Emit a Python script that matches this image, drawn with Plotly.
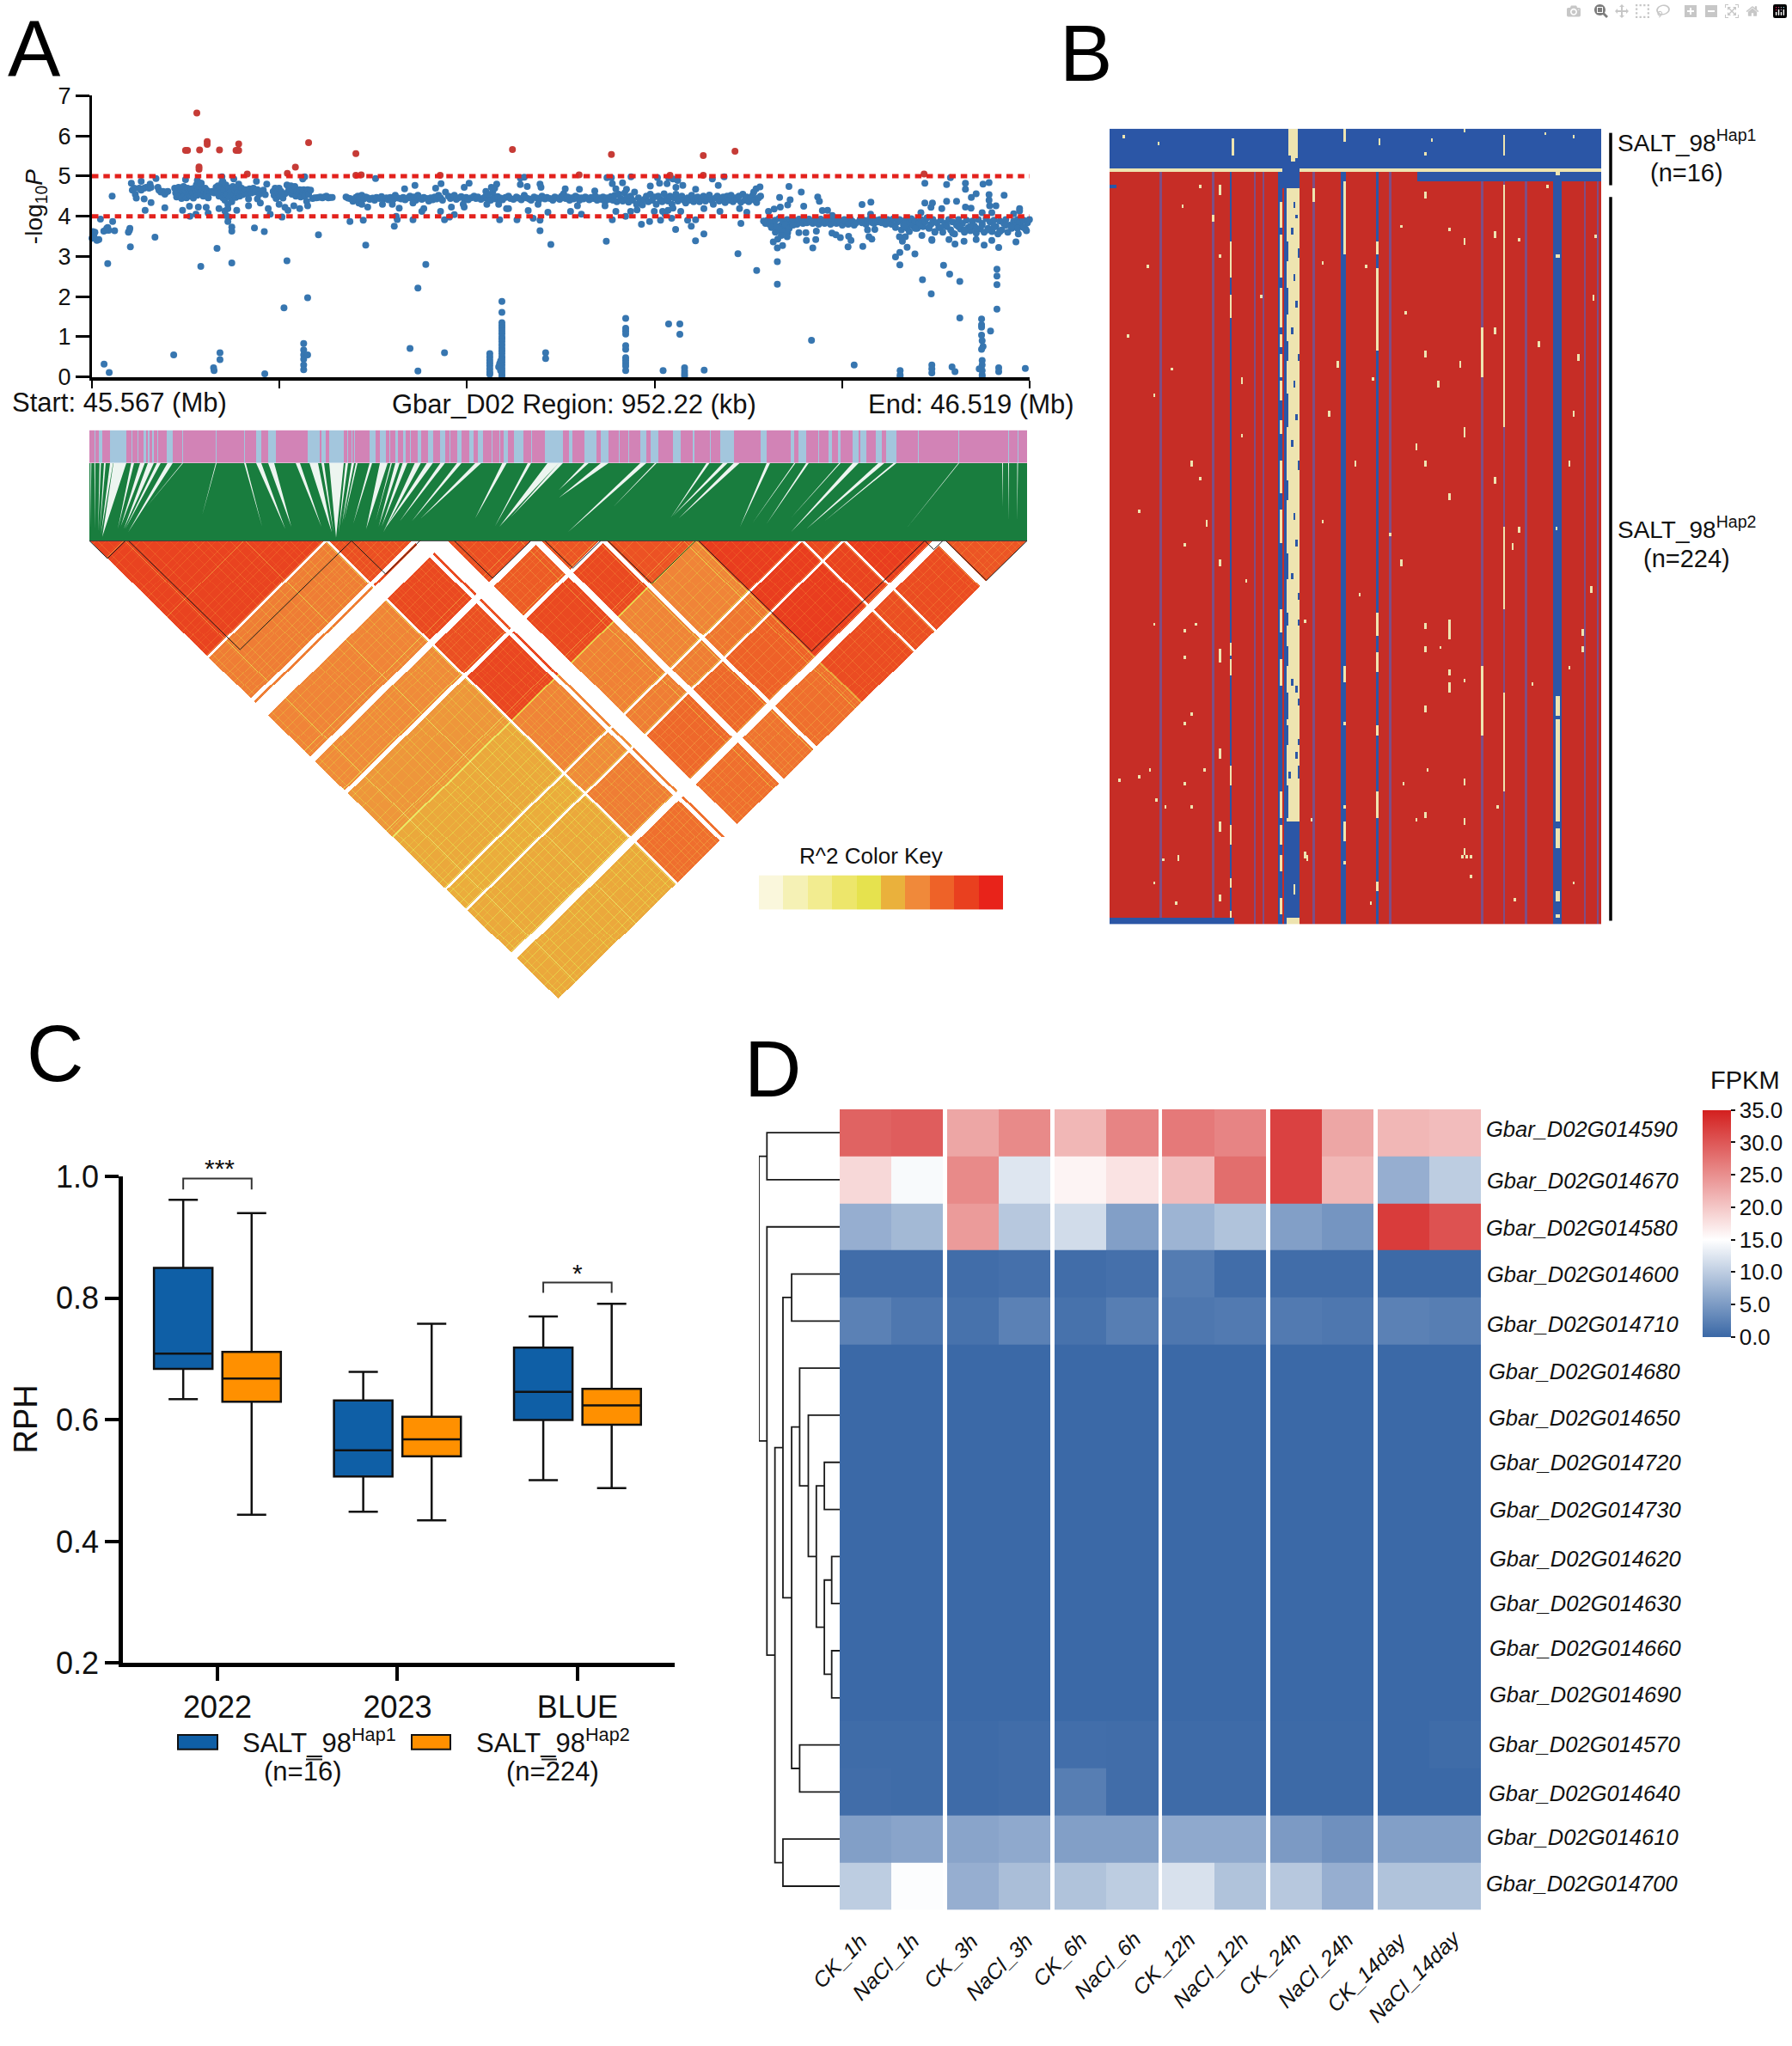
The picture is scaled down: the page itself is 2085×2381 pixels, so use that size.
import numpy as np
import plotly.graph_objects as go

W, H = 2085, 2381
FONT = "Liberation Sans"

# ---------------- Panel A: association scan (kb from region start, -log10 P) ----------------
REGION_KB = 952.22
SIG_HIGH, SIG_LOW = 5, 4
RED_POINTS = [(106.5,6.57),(95,5.64),(97,5.64),(109.3,5.65),(117,5.86),(117,5.79),(129.5,5.65),(149,5.8),(146.3,5.64),
 (149,5.64),(148,5.64),(108.7,5.23),(108.7,5.17),(157.7,5.05),(198.4,5.07),(206.6,5.22),(220,5.83),(268,5.56),(268,5.02),
 (273.4,5.03),(353.6,5.02),(427,5.66),(494.7,5.03),(527.5,5.54),(587,5.02),(620.8,5.51),(620.8,5.02),(653,5.62),(845,5.05)]
START_CLUSTER = [(-1,3.55),(0,3.45),(1,3.62),(2,3.5),(3,3.6),(5,3.4),(7,3.42),(8.6,3.93),(12,3.63),(14,3.65),(15,3.7),(16,3.72),
 (17,3.65),(21,3.87),(23,3.64),(20.5,4.5),(16,2.82),(12.3,.32),(17.5,.11),(37,3.6),(38,3.65),(38.5,3.7),(39,3.24),(64,3.48),
 (40,4.82),(41,4.65),(43,4.7),(44,4.55),(45,4.45),(48,4.7),(50,4.65),(53,4.7),(50,4.87),(55,4.72),(58,4.7),(59,4.8),(60,4.72),
 (53,4.43),(60,4.34),(54,4.15),(65,4.94),(74,4.21),(67,4.72),(68,4.65),(70,4.6),(72,4.62),(74,4.55),(75,4.6),(77,4.62)]
BAND_1 = [(84,4.7),(85,4.58),(86,4.48),(87,4.62),(88,4.72),(89,4.5),(90,4.66),(91,4.44),(92,4.6),(93,4.74),(94,4.52),(95,4.64),
 (96,4.46),(97,4.7),(98,4.56),(99,4.62),(100,4.5),(101,4.68),(102,4.58),(103,4.45),(104,4.7),(105,4.6),(106,4.78),(107,4.52),
 (108,4.66),(109,4.74),(110,4.58),(111,4.82),(112,4.66),(113,4.5),(114,4.6),(115,4.7),(116,4.55),(117,4.64),(118,4.46),(120,4.6),
 (122,4.62),(124,4.58),(126,4.72),(127,4.6),(128,4.76),(129,4.5),(130,4.7),(131,4.58),(132,4.84),(133,4.46),(134,4.66),(135,4.4),
 (136,4.78),(137,4.55),(138,4.3),(139,4.7),(140,4.48),(141,4.62),(142,4.36),(143,4.74),(144,4.55),(145,4.64),(146,4.47),(147,4.7),
 (148,4.58),(149,4.8),(150,4.5),(151,4.62),(152,4.7),(153,4.54),(154,4.6),(156,4.66),(158,4.55),(160,4.68),(162,4.58),(164,4.7),
 (166,4.6),(168,4.66),(170,4.55)]
BAND_1_OUTLIERS = [(95,4.91),(107,4.89),(110,4.82),(132,4.98),(133,4.86),(144,4.93),(92,4.15),(99,4.25),(108,4.23),(116,4.22),
 (118,4.08),(99.5,4.0),(105.6,4.05),(129,4.19),(135,4.13),(138,4.19),(139,3.98),(136,4.02),(138,3.87),(142,3.73),(142,3.63),
 (147,4.15),(118,4.47),(159,4.43),(159,4.26),(167,4.87),(177.5,4.8),(174,4.65),(176,4.54),(168,4.43),(171,4.33),(179,4.19),
 (181,4.05),(165,3.71),(175,3.62),(127,3.2),(110.5,2.75),(142,2.84),(83,.55),(130,.6),(130,.43),(123.5,.23),(124,.16),(175.5,.08)]
BAND_2 = [(184,4.62),(185,4.52),(186,4.7),(187,4.44),(188,4.6),(190,4.7),(191,4.5),(192,4.62),(194,4.45),(196,4.56),(198,4.78),
 (199,4.6),(200,4.68),(202,4.76),(203,4.55),(204,4.65),(206,4.74),(207,4.5),(208,4.62),(210,4.58),(211,4.66),(212,4.48),(214,4.6),
 (215,4.66),(216,4.5),(218,4.62),(219,4.66),(220,4.55),(222,4.65),(190,4.3),(196,4.22),(193,3.98),(199,4.15),(205,4.26),(211,4.19),
 (218,4.37),(219,4.26),(216,4.98),(214,4.93),(198,2.89),(195,1.72),(219,1.97),(215,.83),(215,.67),(215,.55),(219,.55),(215,.44),
 (215,.3),(215,.18),(230,3.54)]
FLAT_RUN = [(224,4.44),(226,4.46),(228,4.46),(230,4.47),(232,4.48),(234,4.46),(236,4.48),(238,4.5),(240,4.46),(242,4.47),(244,4.47)]
BAND_3_KB = [258,260,262,264,266,268,270,272,274,276,278,280,282,285,287,289,292,294,296,299,301,303,306,308,311,314,316,318,321,
 323,325,327,329,331,333,335,337,340,342,344,346,348,350,352,354,356,359,362,364,366,368,370,372,375,378,380,382,385,388,390,
 392,395,398,400,402,405,408,410,412,415,417,420,423,425,428,431,433,436,439,441,444,446,449,452,454,457,460,462,465,468,470,473]
BAND_3_P = [4.48,4.45,4.44,4.42,4.4,4.47,4.5,4.44,4.52,4.43,4.48,4.46,4.42,4.45,4.4,4.47,4.44,4.49,4.43,4.46,4.41,4.47,4.42,4.52,
 4.45,4.43,4.47,4.41,4.46,4.5,4.44,4.48,4.4,4.52,4.46,4.42,4.47,4.44,4.38,4.46,4.41,4.48,4.43,4.52,4.46,4.4,4.6,4.5,4.44,4.48,
 4.52,4.42,4.46,4.49,4.43,4.47,4.41,4.46,4.5,4.44,4.48,4.42,4.46,4.5,4.44,4.4,4.47,4.43,4.49,4.45,4.41,4.47,4.5,4.44,4.42,4.48,
 4.45,4.41,4.52,4.46,4.43,4.4,4.48,4.45,4.41,4.5,4.43,4.47,4.44,4.4,4.48,4.45]
BAND_3_OUTLIERS = [(288,4.94),(262,3.87),(275.5,3.9),(278,3.28),(265,4.37),(271,4.33),(274,4.3),(280,4.23),(295,4.3),(305,4.3),
 (312,4.2),(309,4.0),(310,3.92),(307,3.75),(326,3.91),(317.5,4.68),(328,4.77),(326,4.33),(337,4.19),(335,4.12),(354,4.12),(349,4.7),
 (354.5,4.81),(358,3.91),(365,4.23),(368,4.04),(363,3.98),(339,2.8),(331,2.21),(323,.71),(331,.15),(358,.6),(378,4.72),(383,4.82),
 (377,4.3),(378,4.23),(401,4.3),(405.6,4.72),(411,4.8),(413,4.3),(414,3.91),(421,4.19),(423,4.19),(431.6,3.91),(435,4.79),(439,4.97),
 (435,4.95),(442,4.74),(443,4.14),(448,3.95),(455,4.8),(456,4.72),(453,4.3),(455,3.9),(455,3.64),(466,3.3),(463,4.1),(400,4.62),
 (402,4.55),(407,4.6),(409,4.7)]
VERTICAL_COLUMNS = [(404,.58),(404,.5),(404,.42),(404,.35),(404,.28),(404,.2),(404,.12),(404,.07),(416.3,1.88),(416.3,1.61),(416.3,1.35),
 (416.3,1.28),(416.3,1.22),(416.3,1.15),(416.3,1.08),(416.3,1.0),(416.3,.95),(416.3,.88),(416.3,.8),(416.3,.72),(416.3,.65),(416.3,.58),
 (416.3,.5),(416.3,.44),(416.3,.37),(416.3,.3),(416.3,.22),(416.3,.15),(416.3,.08),(416.3,.02),(415,.4),(414,.33),(413,.25),(415,.16),
 (460.7,.6),(460.7,.46),(542,1.46),(542,1.21),(542,1.14),(542,1.07),(542,.78),(542,.69),(542,.48),(542,.41),(542,.34),(542,.27),(542,.16),
 (585.6,1.32),(597,1.32),(597,1.06),(580,.16),(601.8,.23),(601.8,.15),(601.8,.08),(601.8,.02),(621.7,.17),(730.7,.91),(774,.3),(820.7,.16),
 (820.7,.05),(820.7,0),(852.9,.3),(852.9,.2),(852.9,.1),(873.4,.25),(876.4,.13),(881.3,1.47),(903.4,1.44),(903.4,1.3),(903.4,1.24),(912.5,1.14),
 (903.4,1.04),(904,.9),(904.9,.76),(903.4,.69),(904,.41),(904,.3),(901,.2),(904,.16),(904,.05),(904,0),(920.8,.23),(920.8,.13),(947.8,.21)]
BAND_4_KB = [475,477,479,481,483,485,487,489,491,493,495,497,499,501,503,505,507,509,511,513,515,517,519,521,523,525,527,529,531,
 533,535,537,539,541,543,545,547,549,551,553,555,557,559,561,563,565,567,569,571,573,575,577,579,581,583,585,587,589,591,593,595,
 597,599,601,603,605,607,609,611,613,615,617,619,621,623,625,627,629,631,633,635,637,639,641,643,645,647,649,651,653,655,657,659,
 661,663,665,667,669,671,673,675,677,679]
BAND_4_P = [4.42,4.5,4.56,4.44,4.48,4.4,4.46,4.43,4.5,4.47,4.4,4.46,4.43,4.48,4.45,4.41,4.47,4.44,4.5,4.4,4.46,4.42,4.48,4.36,4.46,
 4.42,4.49,4.4,4.52,4.36,4.55,4.44,4.38,4.58,4.46,4.35,4.5,4.4,4.6,4.3,4.46,4.36,4.28,4.42,4.5,4.36,4.55,4.4,4.48,4.3,4.5,4.42,4.36,
 4.56,4.44,4.38,4.5,4.3,4.46,4.55,4.38,4.44,4.5,4.4,4.33,4.46,4.4,4.52,4.36,4.44,4.48,4.36,4.42,4.5,4.38,4.46,4.53,4.4,4.3,4.45,4.5,
 4.38,4.44,4.48,4.34,4.5,4.4,4.52,4.36,4.46,4.42,4.5,4.35,4.55,4.4,4.48,4.36,4.46,4.52,4.4,4.34,4.46,4.5]
BAND_4_OUTLIERS = [(480.6,4.68),(495,4.67),(510.6,4.63),(486,4.12),(493,4.26),(497,4.05),(521,4.26),(523,4.96),(527.5,4.96),(528.4,4.81),
 (532,4.68),(538.8,4.83),(542.8,4.67),(547.4,4.98),(532,4.12),(528.4,3.91),(541.9,4.0),(553.5,4.16),(547,4.12),(558,3.8),(566.3,3.87),
 (577.4,3.9),(522.3,3.38),(567,4.75),(574.3,4.96),(576.4,4.82),(585.6,4.96),(590,4.93),(594.8,4.89),(600,4.77),(584,4.81),(593,4.72),
 (613,4.67),(571,4.12),(579.5,4.12),(597.9,4.12),(588.7,3.95),(592.7,3.67),(604.9,3.9),(608.6,3.75),(613,3.91),(612.9,3.39),(621.4,3.56),
 (621.4,4.19),(630,4.93),(636,4.77),(642,4.98),(637.7,4.12),(657.6,4.19),(665,4.1),(659,3.82),(656,3.07),(675,2.65),(696,2.87),(696,2.31),
 (674.4,4.68),(678.4,4.73),(672,4.6),(585,4.15),(590,4.2),(582,4.05)]
BAND_5_KB = [682,684,686,688,690,692,694,696,698,700,702,704,706,708,710,712,714,716,718,720,722,724,726,728,730,732,734,736,738,740,
 742,744,746,748,750,752,754,756,758,760,762,764,766,768,770,772,774,776,780,782,784,786,788,790,792,794,796,798,800,802,804,806,808,
 810,812,814,816,818,820,822,824,826,828,830,832,834,836,838,840,842,844,846,848,850,852,854,856,858,860,862,864,866,868,870,872,874,
 876,878,880,882,884,886,888,890,892,894,896,898,900,902,904,906,908,910,912,914,916,918,920,922,924,926,928,930,932,934,936,938,940,
 942,944,946,948,950,952]
BAND_5_P = [3.88,3.82,3.9,3.8,3.86,3.76,3.9,3.7,3.95,3.78,3.88,3.74,3.92,3.84,3.8,3.92,3.85,3.8,3.93,3.86,3.82,3.9,3.84,3.93,3.86,3.82,3.9,
 3.85,3.8,3.93,3.87,3.82,3.9,3.85,3.8,3.93,3.86,3.82,3.9,3.84,3.78,3.92,3.86,3.8,3.94,3.88,3.78,3.84,3.92,3.84,3.9,3.8,3.88,3.94,3.85,3.82,
 3.9,3.86,3.92,3.84,3.88,3.8,3.92,3.85,3.8,3.94,3.72,3.86,3.92,3.66,3.8,3.9,3.7,3.84,3.94,3.76,3.88,3.7,3.82,3.92,3.74,3.86,3.96,3.7,3.8,
 3.92,3.62,3.84,3.72,3.9,3.6,3.82,3.74,3.92,3.66,3.86,3.56,3.78,3.92,3.68,3.82,3.6,3.9,3.72,3.64,3.88,3.76,3.58,3.92,3.68,3.82,3.6,3.94,
 3.7,3.86,3.62,3.9,3.74,3.56,3.88,3.66,3.82,3.92,3.6,3.78,3.7,3.88,3.82,3.92,3.84,3.76,3.9,3.68,3.84,3.92,3.78]
BAND_5_SECOND_ROW = [(690,3.72),(694,3.6),(698,3.66),(702,3.62),(704,3.8),(708,3.7),(712,3.78),(700,3.52),(695,3.75),(840,3.75),(836,3.7),(830,3.62),
 (825,3.75),(850,3.72),(856,3.6),(862,3.72),(868,3.78),(874,3.58),(880,3.74),(886,3.66),(892,3.75),(898,3.7),(904,3.78),(910,3.66),(916,3.74),
 (922,3.62),(928,3.78),(934,3.72),(940,3.7),(946,3.72)]
BAND_5_OUTLIERS = [(707.8,4.74),(698.3,4.47),(720.3,4.6),(737,4.48),(738.7,4.37),(709,4.41),(706.5,4.28),(722.8,4.25),(699,4.23),(692.8,4.18),
 (687,4.12),(741.7,4.14),(747,4.15),(751.8,4.02),(717.9,3.59),(725,3.59),(725.5,3.4),(735.6,3.63),(735,3.42),(732,3.21),(706.5,3.59),(706,3.49),
 (701.3,3.27),(696,3.21),(691.9,3.36),(696.4,3.43),(751.5,3.58),(755.5,3.54),(760,3.47),(768.4,3.5),(770.8,3.4),(767.8,3.24),(782,4.29),(791,4.35),
 (790.7,4.05),(787.6,3.66),(789,3.49),(792,3.43),(795,3.67),(782.8,3.25),(816,2.99),(820.4,3.1),(820.4,2.79),(827.8,3.23),(835.7,3.06),(843.4,2.42),
 (852.3,2.07),(820,3.49),(826,3.49),(823,3.38),(842.8,3.52),(852.9,3.42),(845.8,4.82),(841.8,4.09),(845.8,4.33),(852,4.22),(853.5,4.33),(863,4.19),
 (867.9,4.79),(871.8,4.96),(867.9,4.37),(878,4.37),(887,4.82),(887,4.67),(887,4.23),(893,4.47),(897.9,4.56),(892.7,4.2),(904.9,4.8),(911,4.84),(911,4.54),
 (911,4.4),(911.6,4.26),(918,4.26),(926.3,4.52),(913.8,4.09),(936,4.06),(942,4.19),(942,4.13),(904,4.09),(864.8,2.78),(871,2.56),(881.3,2.38),(919,2.68),
 (919,2.51),(919,2.3),(919,1.69),(920.8,3.22),(906,3.28),(897.9,3.42),(885.6,3.38),(876.4,3.31),(870.3,3.42),(853,3.4),(913.8,3.4),(938.3,3.36),(940.7,3.56),(949,3.64)]
BLUE_POINTS = (START_CLUSTER + BAND_1 + BAND_1_OUTLIERS + BAND_2 + FLAT_RUN + list(zip(BAND_3_KB, BAND_3_P)) + BAND_3_OUTLIERS
               + VERTICAL_COLUMNS + list(zip(BAND_4_KB, BAND_4_P)) + BAND_4_OUTLIERS + list(zip(BAND_5_KB, BAND_5_P))
               + BAND_5_SECOND_ROW + BAND_5_OUTLIERS)

# ---------------- Panel A: SNP map strip + LD (positions are SNP ranks along the region) ----------------
N_RANK = 1091
BLUE_START = [1.6,5.8,11.4,20.6,24,29.3,48.6,56,62.7,68,73.2,78.5,90,108.3,147,180,193.6,208,254,270,278.6,299.6,305,308.4,326,338,349,356,364.5,373,382,394.4,
 408.4,419,427.7,442,452.3,468,477,482,494.4,514,529.5,546,558.3,575.8,595,616,626.7,640.8,653,679.4,702,721.5,734,781,816,825,848,860,870.7,888,897,914.5,927,963.7,1011,1069,1079.5]
BLUE_END = [2.3,6.5,15.3,21.3,29.3,42.7,49.7,57,66.2,69.7,75,79.5,97,109,147.6,180.6,199.6,217,268,275,296,300.6,306,309.4,333,345,350,359,368,374,385.6,399.6,
 413.7,420,433,447,457.6,469,478,487.4,505,515,546,551,561.8,589.9,604,617,627.7,647.8,662,688,704,722.5,749.6,788,820,834,849,863.6,874,895,904,921.6,939,964.7,1012,1070,1080.5]
WEDGE_LEFT = [28,1.3,5.8,11.8,17,24,48.6,59,68,78.5,90.8,108,147,180,194,208,240,256,270,279,298,305,310,326,338,350.5,356,364.5,378.6,392.6,408.4,427.7,449,480.4,510,533,546,576,595,641,658,718,737,749.6,788,820,834,872.4,888,918,935.6,1011,1062,1069,1079.5]
WEDGE_RIGHT = [43,2.3,6.9,13.5,19,27.6,52,64.5,75,83,97,109,148,182,200,215,245,266,273,296,301,308,312,329,347,352,361,370,385.6,399.6,413.7,433,456,485.6,514,546,551,581,604,648,660,721.5,742.6,756.6,792,821.5,837,874,895,925,939,1012,1063,1070,1080.5]
WEDGE_TIP_RANK = [15,1.3,6.5,10,12,13.5,33,36.4,40,41.6,45,66,131,201,228,235,270,282,284,287,290,294,296,307,322,333,336.5,340,342,343.5,361,375,386,449,471.6,477,490,546,546,556.5,609,676,679,686,757,771,788,816,816,834,855,950,1062,1069,1079.5]
WEDGE_TIP_DEPTH = [.95,.85,.85,.89,.89,.92,.85,.82,.85,.85,.89,.57,.68,.82,.85,.82,.82,.89,.89,.96,.89,.78,.75,.78,.85,.75,.82,.82,.89,.85,.75,.75,.71,.71,.82,.82,.7,.35,.45,.89,.57,.71,.68,.71,.82,.78,.78,.71,.89,.85,.75,.85,.57,.75,.75]
LD_BLOCK_LOW = [0,278,383,415.5,525,600.7,705.3,831,880,995]
LD_BLOCK_HIGH = [273.7,375.5,387.4,513.7,593.7,705.3,826.7,875.8,982.5,1091]
LD_BLOCK_ID = [0,1,1,2,3,4,5,6,7,8]
LD_R2 = [[.88,.70,.68,.66,.63,.58,.57,.58,.58],
         [.70,.84,.86,.84,.87,.68,.66,.70,.74],
         [.68,.86,.84,.80,.86,.69,.70,.76,.74],
         [.66,.84,.80,.82,.86,.68,.70,.76,.73],
         [.63,.87,.86,.86,.83,.68,.72,.78,.74],
         [.58,.68,.69,.68,.68,.90,.90,.90,.85],
         [.57,.66,.70,.70,.72,.90,.86,.88,.84],
         [.58,.70,.76,.76,.78,.90,.88,.90,.85],
         [.58,.74,.74,.73,.74,.85,.84,.85,.82]]
LD_LIGHT_SNPS = [8,60,118,135,162,215,232,262,292,318,336,352,369,392,430,452,477,508,533,548,572,610,634,668,694,722,745,770,792,814,838,862,896,918,945,968,1010,1030,1058,1077]
LD_PALE_SNPS = [20,37,48,75,92,105,128,148,175,188,203,225,245,250,283,300,305,325,345,360,400,420,442,462,490,500,540,560,580,620,650,680,700,735,760,785,805,850,885,905,930,955,975,1000,1020,1045,1068,1085]
LD_YELLOW_SNPS = [704,705,706,40,180,272,379,500,590,690,825,874,980]
HAP_BLOCK_START = [0,45.6,305,424.6,530,603.5,708.8,972,996.5]
HAP_BLOCK_END = [42,305,384.6,513.7,595,705.3,972,993,1091]
R2_KEY_COLOURS = ["#FAF7DC","#F5F1B5","#F2EC90","#EDE66B","#E6E24E","#EAB13C","#F0893A","#EE6228","#E9401F","#E8231A"]

# ---------------- Panel B: haplotype matrix ----------------
B_ROWS, B_COLS = 240, 225
B_HAP1_ROWS = 12
B_BLUE_STRIPES = [(55,56),(77,78),(80,81),(106,108),(122,123),(203,207)]
B_THIN_STRIPES = [23,47,66,70,93,128,170,180,190,217,223]
B_MAIN_CREAM = (81,87,18,209)
B_FLECK_BLUE = [(84,22,24),(85,26,27),(83,30,32),(81,34,40),(86,36,39),(84,44,46),(81,48,56),(85,52,54),(83,60,62),(81,64,70),(86,68,70),(84,76,78),(81,80,90),(85,86,88),(83,94,96),(86,100,103),
 (81,106,112),(84,116,118),(85,124,126),(81,128,136),(83,134,136),(86,140,142),(81,146,150),(86,148,150),(81,156,162),(83,166,168),(85,168,170),(81,170,178),(86,172,174),(81,180,186),(85,188,190),(86,192,196),(82,194,196),(81,198,208),(86,184,186)]
B_COL78_CREAM = [(22,30),(32,45),(48,60),(62,66),(68,75),(76,82),(88,92),(100,110),(115,125),(145,152),(160,168),(200,208),(210,216),(219,224),(232,237)]
B_COL107_CREAM = [(16,38),(162,167),(179,180),(204,205),(209,215),(221,222)]
B_COL122_CREAM = [(34,38),(42,67),(146,153),(158,164),(180,183),(200,208),(227,230)]
B_COL205_CREAM = [(12,14),(38,39),(171,177),(178,209),(211,217),(230,233),(237,238)]
B_COL56_CREAM = [(34,45),(50,57),(160,165),(192,198),(155,159),(210,216),(226,229),(236,238)]
B_TICKS = [(20,149,150),(34,151,152),(39,149,150),(50,157,161),(34,159,160),(37,176,177),(34,179,180),(50,187,190),(43,193,194),(18,193,194),(13,195,196),(4,196,197),(34,197,198),(21,202,203),
 (25,204,205),(37,204,205),(30,233,234),(20,227,228),(50,209,212),(24,220,221),(31,219,221),(50,231,233),(144,149,151),(155,148,154),(151,156,157),(144,156,158),(155,163,165),(162,166,167),(155,167,170),
 (144,174,176),(140,208,209),(144,206,208),(162,196,198),(162,208,210),(162,217,219),(161,219,220),(163,219,220),(165,219,220),(165,225,226),(185,232,233),(212,227,228),(177,204,205),(170,162,183),(193,167,168),
 (216,151,153),(216,156,158),(210,162,163),(145,193,194),(134,197,198),(119,233,234),(90,219,221),(92,208,209),(89,148,149),(89,218,220),(17,41,42),(41,17,18),(50,17,20),(33,23,24),(47,26,28),(50,38,39),(93,18,22),
 (133,29,30),(144,19,21),(155,30,31),(162,33,35),(176,31,33),(187,33,34),(222,32,33),(214,68,70),(200,17,18),(135,55,56),(144,67,69),(221,50,52),(180,17,90),(69,50,51),(117,41,42),(97,40,41),
 (20,80,81),(37,100,102),(60,92,93),(100,85,87),(120,75,76),(140,95,97),(155,110,112),(162,90,93),(176,105,107),(187,120,122),(212,85,87),(34,125,126),(50,130,132),(13,115,116),(97,118,119),(133,130,132),(144,100,102),(160,70,72),(170,60,75),
 (8,62,63),(28,72,73),(44,118,120),(62,136,137),(104,70,72),(114,140,141),(128,122,123),(150,76,78),(196,64,66),(204,120,121),(210,100,102),(220,138,140),(176,60,62),(184,125,127),(60,75,77),(112,100,102),(41,105,106),(180,120,145),(180,170,200)]
B_HAP1_CREAM = [(107,0,4),(123,3,5),(147,3,4),(144,7,8),(56,3,8),(180,2,8),(162,0,1),(6,2,3),(22,4,5),(199,1,2),(212,2,3),(82,0,8),(83,0,10),(84,0,10),(85,0,9)]

# ---------------- Panel C: RPH box plots ----------------
ENVIRONMENTS = ["2022","2023","BLUE"]
HAP1_Q = dict(upper=[.962,.679,.770], q3=[.850,.632,.719], median=[.709,.550,.646], q1=[.684,.507,.600], lower=[.634,.449,.501])
HAP2_Q = dict(upper=[.940,.758,.791], q3=[.712,.605,.651], median=[.668,.568,.624], q1=[.630,.540,.592], lower=[.444,.435,.488])

# ---------------- Panel D: FPKM heat map ----------------
SAMPLES = ["CK_1h","NaCl_1h","CK_3h","NaCl_3h","CK_6h","NaCl_6h","CK_12h","NaCl_12h","CK_24h","NaCl_24h","CK_14day","NaCl_14day"]
GENES = ["Gbar_D02G014590","Gbar_D02G014670","Gbar_D02G014580","Gbar_D02G014600","Gbar_D02G014710","Gbar_D02G014680","Gbar_D02G014650",
         "Gbar_D02G014720","Gbar_D02G014730","Gbar_D02G014620","Gbar_D02G014630","Gbar_D02G014660","Gbar_D02G014690","Gbar_D02G014570",
         "Gbar_D02G014640","Gbar_D02G014610","Gbar_D02G014700"]
FPKM = [[29,29.5,23,25.5,21.5,26,27,26,32,23,21.5,21],
        [18.5,14.5,25.5,12.5,16,17.5,21,28,32,21.5,7,10],
        [7,8,24,9.5,11.5,5.5,7.5,9,5.5,4.5,32.5,30.5],
        [.5,.5,.5,.8,.5,.8,2,.5,.5,.5,.2,.2],
        [2.5,1.5,1,2.5,1,2.2,1.5,1.8,1.8,1.5,2.5,2.2],
        [.1]*12,[.1]*12,[.1]*12,[.1]*12,[.1]*12,[.1]*12,[.1]*12,[.1]*12,
        [.4,.4,.3,.5,.6,.5,.3,.3,.2,.2,.1,.4],
        [.5,.4,.3,.5,2.2,.5,.3,.3,.2,.2,.1,.1],
        [5.5,6,6,6.5,5.5,5.5,6.5,6.5,5,4,5.5,5.5],
        [10,14.8,7,8.5,9,10,12,9,9.5,7,9,9]]
# agglomerative merges: (child a, child b, height); ids >= 17 are earlier merges
GENE_MERGES = [(0,1,109),(3,4,72),(9,10,12),(11,12,12),(7,8,23),(19,20,23),(21,22,35),(6,23,47),(5,24,60),(13,14,60),(25,26,72),(18,27,85),(15,16,85),(28,29,97),(2,30,109),(17,31,121)]
COLOURBAR_TICKS = [0,5,10,15,20,25,30,35]

# ---------------- helpers ----------------
def dx(a, b): return [a / W, b / W]
def dy(t, b): return [1 - b / H, 1 - t / H]
annots, shapes = [], []
def text(s, x, y, size, anchor="left", angle=0, color="#111111"):
    annots.append(dict(text=s, x=x / W, y=1 - y / H, xref="paper", yref="paper", showarrow=False, xanchor=anchor, yanchor="middle",
                       textangle=angle, font=dict(size=size, color=color, family=FONT)))
def rule(x0, y0, x1, y1, w=3, color="black"):
    shapes.append(dict(type="line", xref="paper", yref="paper", x0=x0 / W, x1=x1 / W, y0=1 - y0 / H, y1=1 - y1 / H, line=dict(color=color, width=w)))
def box(x0, y0, x1, y1, fill):
    shapes.append(dict(type="rect", xref="paper", yref="paper", x0=x0 / W, x1=x1 / W, y0=1 - y0 / H, y1=1 - y1 / H, fillcolor=fill, line=dict(color="#111111", width=2)))
hidden = dict(visible=False, showgrid=False, zeroline=False)

fig = go.Figure()
layout = dict(width=W, height=H, margin=dict(l=0, r=0, t=0, b=0), paper_bgcolor="white", plot_bgcolor="white", showlegend=False,
              font=dict(family=FONT, color="#111111"), boxmode="overlay")

# ---- A: scan
bx, by = zip(*BLUE_POINTS); rx, ry = zip(*RED_POINTS)
fig.add_scatter(x=bx, y=by, mode="markers", marker=dict(size=8, color="#3776B0"), cliponaxis=False, xaxis="x", yaxis="y")
fig.add_scatter(x=rx, y=ry, mode="markers", marker=dict(size=8, color="#C63B36"), cliponaxis=False, xaxis="x", yaxis="y")
for lvl in (SIG_HIGH, SIG_LOW):
    fig.add_scatter(x=[0, REGION_KB], y=[lvl, lvl], mode="lines", line=dict(color="#E3211C", width=5, dash="7.5px,5.8px"), xaxis="x", yaxis="y")
layout["xaxis"] = dict(domain=dx(107, 1198), range=[0, REGION_KB], anchor="y", showgrid=False, zeroline=False, showline=True, linecolor="black", linewidth=4,
                       ticks="outside", ticklen=9, tickwidth=2, tickcolor="black", tickvals=[i * REGION_KB / 5 for i in range(6)], showticklabels=False)
layout["yaxis"] = dict(domain=dy(93, 426), range=[0, 7], anchor="x", showgrid=False, zeroline=False, showline=True, linecolor="black", linewidth=3,
                       ticks="outside", ticklen=16, tickwidth=3, tickcolor="black", tickvals=list(range(8)), tickfont=dict(size=27, family=FONT, color="#111111"))
text("-log<sub>10</sub><i>P</i>", 41, 224, 28, "center", -90)
text("Start: 45.567 (Mb)", 12, 456, 31)
text("Gbar_D02 Region: 952.22 (kb)", 454, 458, 31)
text("End: 46.519 (Mb)", 1008, 458, 31)

# ---- A: SNP strip
edges = sorted(set([0, N_RANK] + BLUE_START + BLUE_END))
centres = (np.array(edges[:-1]) + np.array(edges[1:])) / 2
strip = [[max((1.0 if s <= c < e else 0.0) for s, e in zip(BLUE_START, BLUE_END)) for c in centres]]
fig.add_heatmap(x=edges, y=[0, 1], z=strip, colorscale=[[0, "#D283B6"], [1, "#A3C6DD"]], zmin=0, zmax=1, showscale=False, xaxis="x2", yaxis="y2", hoverinfo="skip")
layout["xaxis2"] = dict(domain=dx(104, 1195), range=[0, N_RANK], anchor="y2", **hidden)
layout["yaxis2"] = dict(domain=dy(489, 528), range=[0, 1], anchor="x2", **hidden)
# ---- A: connector band
fig.add_scatter(x=[0, N_RANK, N_RANK, 0, 0], y=[0, 0, 1, 1, 0], mode="lines", fill="toself", fillcolor="#197D3E", line=dict(width=0), xaxis="x2", yaxis="y3", hoverinfo="skip")
wx, wy = [], []
for l, r, tx, td in zip(WEDGE_LEFT, WEDGE_RIGHT, WEDGE_TIP_RANK, WEDGE_TIP_DEPTH):
    wx += [l, r, tx, l, None]; wy += [0, 0, td, 0, None]
fig.add_scatter(x=wx, y=wy, mode="lines", fill="toself", fillcolor="rgba(255,255,255,0.92)", line=dict(width=0), xaxis="x2", yaxis="y3", hoverinfo="skip")
layout["yaxis3"] = dict(domain=dy(528, 620), range=[1, 0], anchor="x2", **hidden)

# ---- A: LD triangle
LD_DEPTH = 542
xs = np.arange(0, N_RANK, 1.0) + .5
ds = np.arange(0, LD_DEPTH, 1.0) + .5
XX, DD = np.meshgrid(xs, ds)
k = (N_RANK / 2) / LD_DEPTH
U = XX - DD * k; V = XX + DD * k
lookup = np.full(N_RANK + 2, -1, dtype=int)
for lo, hi, b in zip(LD_BLOCK_LOW, LD_BLOCK_HIGH, LD_BLOCK_ID):
    lookup[int(round(lo)):int(round(hi))] = b
shade = np.zeros(N_RANK + 2)
for p in LD_PALE_SNPS: shade[p] = .05
for p in LD_LIGHT_SNPS: shade[p] = .10
for p in LD_YELLOW_SNPS: shade[p] = .22
inside = (U >= 0) & (V < N_RANK)
ui = np.clip(U, 0, N_RANK).astype(int); vi = np.clip(V, 0, N_RANK).astype(int)
bu, bv = lookup[ui], lookup[vi]
M = np.array(LD_R2)
Z = M[np.clip(bu, 0, 8), np.clip(bv, 0, 8)] - shade[ui] - shade[vi]
Z[(bu < 0) | (bv < 0) | ~inside] = np.nan
key_scale = [[i / 9, c] for i, c in enumerate(R2_KEY_COLOURS)]
fig.add_heatmap(x=xs, y=ds, z=Z.astype("float32"), colorscale=key_scale, zmin=0, zmax=1, showscale=False, xaxis="x2", yaxis="y4", hoverinfo="skip")
tx_, ty_ = [], []
for s, e in zip(HAP_BLOCK_START, HAP_BLOCK_END):
    tx_ += [s, (s + e) / 2, e, None]; ty_ += [0, (e - s) / 2 / k, 0, None]
fig.add_scatter(x=tx_, y=ty_, mode="lines", line=dict(color="#1a1a1a", width=1), xaxis="x2", yaxis="y4", hoverinfo="skip")
fig.add_scatter(x=[0, N_RANK], y=[0, 0], mode="lines", line=dict(color="#1a1a1a", width=1.5), cliponaxis=False, xaxis="x2", yaxis="y4", hoverinfo="skip")
layout["yaxis4"] = dict(domain=dy(620, 620 + LD_DEPTH), range=[LD_DEPTH, 0], anchor="x2", **hidden)
# key
fig.add_heatmap(x=list(range(10)), y=[0], z=[[(i) / 9 for i in range(10)]], colorscale=key_scale, zmin=0, zmax=1, showscale=False, xaxis="x3", yaxis="y5", hoverinfo="skip")
layout["xaxis3"] = dict(domain=dx(883, 1167), range=[-.5, 9.5], anchor="y5", **hidden)
layout["yaxis5"] = dict(domain=dy(1016, 1057), range=[-.5, .5], anchor="x3", **hidden)
text("R^2 Color Key", 1013, 993, 26, "center")

# ---- B
G = np.zeros((B_ROWS, B_COLS), dtype="float32")
RED, BLUE, CREAM, THIN = 0, 1, 2, 3
for c in B_THIN_STRIPES: G[:, c] = THIN
for a, b in B_BLUE_STRIPES: G[:, a:b] = BLUE
G[:, 78] = BLUE
c0, c1, r0, r1 = B_MAIN_CREAM
G[r0:r1, c0:c1] = CREAM
G[r1:238, c0:c1] = BLUE
G[238:, c0:c1] = CREAM
for c, a, b in B_FLECK_BLUE: G[a:b, c:c + 1] = BLUE
for a, b in B_COL78_CREAM: G[a:b, 78] = CREAM
for a, b in B_COL107_CREAM: G[a:b, 107] = CREAM
for a, b in B_COL122_CREAM: G[a:b, 122] = CREAM
for a, b in B_COL205_CREAM: G[a:b, 204:206] = CREAM
for a, b in B_COL56_CREAM: G[a:b, 55] = CREAM
for c, a, b in B_TICKS: G[a:b, c] = CREAM
G[238:, :57] = BLUE
G[228:231, 84] = CREAM
G[17:18, :3] = BLUE
G[:B_HAP1_ROWS, :] = BLUE
for c, a, b in B_HAP1_CREAM: G[a:b, c] = CREAM
G[B_HAP1_ROWS, :] = CREAM
G[B_HAP1_ROWS + 1:16, 141:] = BLUE
G[B_HAP1_ROWS:18, 79:87] = BLUE
G[B_HAP1_ROWS:14, 204:206] = CREAM
bcol = ["#C62D26", "#2B56A6", "#EEE4B0", "#7E4E85"]
bscale = []
for i, c in enumerate(bcol): bscale += [[i / 4, c], [(i + 1) / 4, c]]
fig.add_heatmap(z=G, x0=0, dx=1, y0=0, dy=1, colorscale=bscale, zmin=-.5, zmax=3.5, showscale=False, xaxis="x4", yaxis="y6", hoverinfo="skip")
layout["xaxis4"] = dict(domain=dx(1291, 1863), range=[-.5, B_COLS - .5], anchor="y6", **hidden)
layout["yaxis6"] = dict(domain=dy(132, 1074), range=[B_ROWS - .5, -.5], anchor="x4", **hidden)
rule(1874, 137, 1874, 199, 3.5)
rule(1874, 213, 1874, 1070, 3.5)
text("SALT_98<sup>Hap1</sup>", 1880, 147, 28)
text("(n=16)", 1962, 184, 29, "center")
text("SALT_98<sup>Hap2</sup>", 1880, 604, 28)
text("(n=224)", 1962, 641, 29, "center")

# ---- C
OFF = .19
for q, col, sgn in ((HAP1_Q, "#0F5FA6", -1), (HAP2_Q, "#FF9000", 1)):
    fig.add_box(x=[i + sgn * OFF for i in range(3)], q1=q["q1"], median=q["median"], q3=q["q3"], lowerfence=q["lower"], upperfence=q["upper"],
                width=.325, whiskerwidth=.5, fillcolor=col, line=dict(color="#111111", width=2.5), boxpoints=False, xaxis="x5", yaxis="y7", hoverinfo="skip")
for (a, b, top, foot) in ((-OFF, OFF, .997, .979), (2 - OFF, 2 + OFF, .826, .809)):
    fig.add_scatter(x=[a, a, b, b], y=[foot, top, top, foot], mode="lines", line=dict(color="#333333", width=2), xaxis="x5", yaxis="y7", hoverinfo="skip")
layout["xaxis5"] = dict(domain=dx(143, 785), range=[-.525, 2.54], anchor="y7", showgrid=False, zeroline=False, showline=True, linecolor="black", linewidth=4.5,
                        ticks="outside", ticklen=16, tickwidth=4, tickcolor="black", tickvals=[0, 1, 2], ticktext=ENVIRONMENTS, tickfont=dict(size=36, family=FONT, color="#111111"))
layout["yaxis7"] = dict(domain=dy(1373, 1949), range=[.2, 1.0], anchor="x5", showgrid=False, zeroline=False, showline=True, linecolor="black", linewidth=4.5,
                        ticks="outside", ticklen=16, tickwidth=4, tickcolor="black", tickvals=[.2, .4, .6, .8, 1.0], tickformat=".1f", tickfont=dict(size=36, family=FONT, color="#111111"))
text("RPH", 30, 1660, 38, "center", -90)
text("***", 255, 1363, 30, "center")
text("*", 672, 1487, 30, "center")
box(207, 2034, 253, 2051, "#0F5FA6")
box(479, 2034, 524, 2051, "#FF9000")
text("SALT_98<sup>Hap1</sup>", 280, 2041, 31)
text("(n=16)", 352, 2077, 31, "center")
text("SALT_98<sup>Hap2</sup>", 552, 2041, 31)
text("(n=224)", 643, 2077, 31, "center")
rule(356, 2063, 375, 2063, 2, "#222222")
rule(630, 2063, 648, 2063, 2, "#222222")

# ---- D
GAP = .08
col_edges, zcols = [0.0], []
for i in range(12):
    col_edges.append(col_edges[-1] + 1); zcols.append(i)
    if i % 2 == 1 and i < 11:
        col_edges.append(col_edges[-1] + GAP); zcols.append(None)
ZD = [[(row[c] if c is not None else None) for c in zcols] for row in FPKM]
fig.add_heatmap(x=col_edges, y=list(range(17)), z=ZD, zmin=0, zmax=35, xaxis="x6", yaxis="y8", hoverinfo="skip",
                colorscale=[[0, "#3A68A6"], [15 / 35, "#FFFFFF"], [1, "#D3201F"]],
                colorbar=dict(x=1981 / W, xanchor="left", y=1 - 1294 / H, yanchor="top", thicknessmode="pixels", thickness=33, lenmode="pixels", len=264,
                              xpad=0, ypad=0, outlinewidth=0, tickvals=COLOURBAR_TICKS, ticks="outside", ticklen=5, tickwidth=1.5, tickcolor="#111111", tickformat=".1f",
                              tickfont=dict(size=26, family=FONT, color="#111111")))
layout["xaxis6"] = dict(domain=dx(977, 1723), range=[0, col_edges[-1]], anchor="y8", **hidden)
layout["yaxis8"] = dict(domain=dy(1293, 2241), range=[16.5, -.5], anchor="x6", **hidden)
# dendrogram
pos = {i: (float(i), 0.0) for i in range(17)}
lx, ly = [], []
for n, (a, b, h) in enumerate(GENE_MERGES):
    ya, ha = pos[a]; yb, hb = pos[b]
    lx += [ha, h, h, hb, None]; ly += [ya, ya, yb, yb, None]
    pos[17 + n] = ((ya + yb) / 2, h)
fig.add_scatter(x=lx, y=ly, mode="lines", line=dict(color="#1a1a1a", width=1.8), xaxis="x7", yaxis="y9", hoverinfo="skip")
layout["xaxis7"] = dict(domain=dx(883, 977), range=[121, 0], anchor="y9", **hidden)
layout["yaxis9"] = dict(domain=dy(1293, 2241), range=[16.5, -.5], anchor="x7", **hidden)
LABEL_X = [1137,1138,1137,1138,1138,1139,1139,1140,1140,1140,1140,1140,1140,1139,1139,1138,1137]
LABEL_Y = [867,907,944,980,1019,1056,1092,1127,1164,1202,1237,1272,1308,1347,1385,1419,1455]
for g, x, y in zip(GENES, LABEL_X, LABEL_Y):
    text(f"<i>{g}</i>", x * 1.5186, y * 1.5186, 25.5)
SAMPLE_X = [977,1030,1106,1162,1233,1288,1354,1408,1477,1530,1590,1645]
SAMPLE_Y = [2302,2309,2302,2309,2300,2307,2305,2313,2305,2313,2315,2320]
for s, x, y in zip(SAMPLES, SAMPLE_X, SAMPLE_Y):
    text(f"<i>{s}</i>", x, y, 25, "center", -45)
text("FPKM", 2030, 1259, 29, "center")

# ---- panel letters
for s, x, y in (("A", 40, 38), ("B", 1263, 43), ("C", 64, 1227), ("D", 899, 1245)):
    text(s, x, y, 92, "center", color="black")

layout["annotations"] = annots
layout["shapes"] = shapes
fig.update_layout(**layout)
fig.write_html("out.html", post_script="document.body.style.margin='0';document.documentElement.style.overflow='hidden';")
